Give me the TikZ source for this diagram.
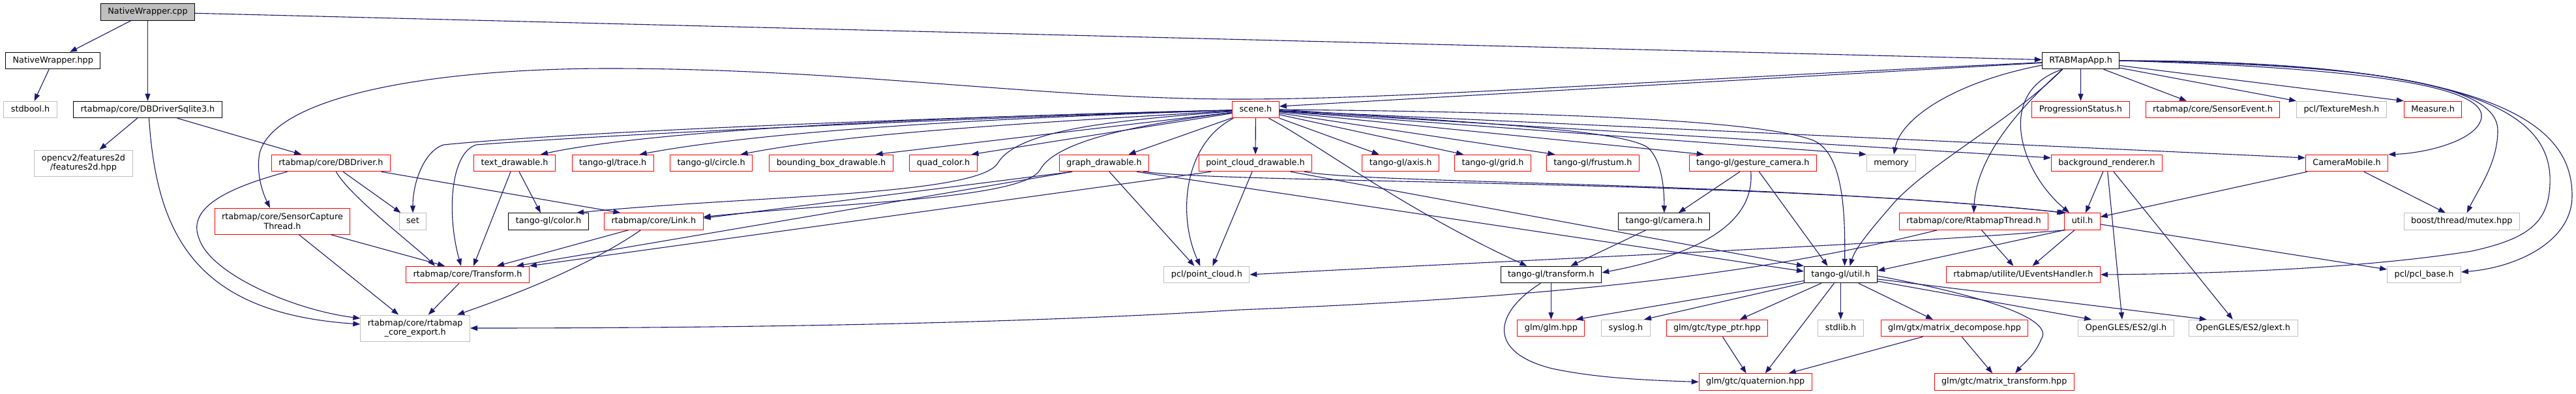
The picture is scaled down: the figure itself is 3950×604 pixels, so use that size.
\documentclass[tikz,border=0pt]{standalone}
\usepackage{fontspec}
\setmainfont{DejaVu Sans}
\usetikzlibrary{arrows.meta}
\definecolor{doxyblue}{RGB}{25,25,112}
\definecolor{doxyred}{RGB}{255,0,0}
\definecolor{doxygrey}{RGB}{191,191,191}
\begin{document}
\begin{tikzpicture}[x=1pt,y=-1pt,
  file/.style={draw,line width=1pt,font=\fontsize{12.8}{14.7}\selectfont,inner xsep=11pt,inner ysep=0pt,text height=9.8pt,text depth=3pt,minimum height=25.5pt},
  two/.style={align=center,text height={},text depth={},minimum height=40pt},
  redfile/.style={file,draw=doxyred},
  greyfile/.style={file,draw=doxygrey},
  blackfile/.style={file,draw=black},
  rootfile/.style={file,draw=black,fill=doxygrey},
  inc/.style={draw=doxyblue,line width=1.1pt,-{Triangle[length=11pt,width=8pt]}}]
  \fill[white](0,0)rectangle(3950,604);
  \useasboundingbox(0,0)rectangle(3950,604);
  \node[rootfile] (ncpp) at (226.5,18.5) {NativeWrapper.cpp};
  \node[blackfile] (nhpp) at (81.3,93) {NativeWrapper.hpp};
  \node[greyfile] (stdbool) at (46.5,168) {stdbool.h};
  \node[blackfile] (sqlite) at (226.5,168) {rtabmap/core/DBDriverSqlite3.h};
  \node[greyfile,two] (features) at (128,250) {opencv2/features2d\\/features2d.hpp};
  \node[redfile] (dbdriver) at (507.5,250) {rtabmap/core/DBDriver.h};
  \node[redfile,two] (capture) at (433,339.3) {rtabmap/core/SensorCapture\\Thread.h};
  \node[greyfile] (setstl) at (633,339.5) {set};
  \node[greyfile,two] (export) at (636.7,503) {rtabmap/core/rtabmap\\\_core\_export.h};
  \node[redfile] (transf) at (717,421) {rtabmap/core/Transform.h};
  \node[blackfile] (color) at (841,339.5) {tango-gl/color.h};
  \node[redfile] (link) at (1002.4,339.5) {rtabmap/core/Link.h};
  \node[redfile] (textdraw) at (789,250) {text\_drawable.h};
  \node[redfile] (trace) at (939.7,250) {tango-gl/trace.h};
  \node[redfile] (circle) at (1090.6,250) {tango-gl/circle.h};
  \node[redfile] (bbox) at (1274.5,250) {bounding\_box\_drawable.h};
  \node[redfile] (quad) at (1446.5,250) {quad\_color.h};
  \node[redfile] (graphdraw) at (1693,250) {graph\_drawable.h};
  \node[redfile] (clouddraw) at (1925,250) {point\_cloud\_drawable.h};
  \node[redfile] (scene) at (1925.4,168) {scene.h};
  \node[greyfile] (pclcloud) at (1850.4,421) {pcl/point\_cloud.h};
  \node[redfile] (axis) at (2147.7,250) {tango-gl/axis.h};
  \node[redfile] (grid) at (2289,250) {tango-gl/grid.h};
  \node[redfile] (frustum) at (2442.4,250) {tango-gl/frustum.h};
  \node[blackfile] (tgtransform) at (2378.4,421) {tango-gl/transform.h};
  \node[redfile] (glm) at (2378.4,503) {glm/glm.hpp};
  \node[greyfile] (syslog) at (2493,503) {syslog.h};
  \node[blackfile] (tgcamera) at (2551.8,339.5) {tango-gl/camera.h};
  \node[redfile] (typeptr) at (2632.8,503) {glm/gtc/type\_ptr.hpp};
  \node[redfile] (gesture) at (2687.7,250) {tango-gl/gesture\_camera.h};
  \node[greyfile] (memory) at (2900,250) {memory};
  \node[blackfile] (app) at (3190.6,93) {RTABMapApp.h};
  \node[redfile] (progress) at (3190.5,168) {ProgressionStatus.h};
  \node[redfile] (bgrend) at (3230.4,250) {background\_renderer.h};
  \node[redfile] (rtthread) at (3026.5,339.5) {rtabmap/core/RtabmapThread.h};
  \node[redfile] (util) at (3193,339.5) {util.h};
  \node[blackfile] (tgutil) at (2822.5,421) {tango-gl/util.h};
  \node[redfile] (uevents) at (3102.4,421) {rtabmap/utilite/UEventsHandler.h};
  \node[greyfile] (stdlib) at (2822.5,503) {stdlib.h};
  \node[redfile] (decompose) at (2997,503) {glm/gtx/matrix\_decompose.hpp};
  \node[greyfile] (glh) at (3260,503) {OpenGLES/ES2/gl.h};
  \node[redfile] (quat) at (2691.7,585.5) {glm/gtc/quaternion.hpp};
  \node[redfile] (mattrans) at (3073.2,585.5) {glm/gtc/matrix\_transform.hpp};
  \node[redfile] (sensorevent) at (3393,168) {rtabmap/core/SensorEvent.h};
  \node[greyfile] (texmesh) at (3590.4,168) {pcl/TextureMesh.h};
  \node[redfile] (measure) at (3730.6,168) {Measure.h};
  \node[redfile] (cammobile) at (3598.5,250) {CameraMobile.h};
  \node[greyfile] (mutex) at (3774.8,339.5) {boost/thread/mutex.hpp};
  \node[greyfile] (pclbase) at (3717,421) {pcl/pcl\_base.h};
  \node[greyfile] (glext) at (3439.7,503) {OpenGLES/ES2/glext.h};
  \draw[inc] (ncpp) -- (nhpp);
  \draw[inc] (ncpp) -- (sqlite);
  \draw[inc] (ncpp) -- (app);
  \draw[inc] (nhpp) -- (stdbool);
  \draw[inc] (sqlite) -- (features);
  \draw[inc] (sqlite) -- (dbdriver);
  \draw[inc] ([xshift=2pt]sqlite.south) .. controls (240,360) and (300,480) .. ([yshift=6pt]export.west);
  \draw[inc] ([xshift=-67pt]dbdriver.south) .. controls (360,285) and (285,315) .. (305,365) .. controls (322,420) and (450,475) .. ([yshift=15pt]export.west);
  \draw[inc] (dbdriver) -- (setstl);
  \draw[inc] ([xshift=8pt]dbdriver.south) .. controls (535,300) and (640,380) .. ([xshift=-50pt]transf.north);
  \draw[inc] (dbdriver) -- ([xshift=-51pt]link.north);
  \draw[inc] (capture) -- (export);
  \draw[inc] (capture) -- ([xshift=-35pt]transf.north);
  \draw[inc] (app) .. controls (2500,125) and (2150,152) .. (1900,152) .. controls (1600,152) and (1300,105) .. (935,105) .. controls (650,105) and (420,150) .. (398,235) .. controls (392,270) and (405,300) .. ([xshift=-19pt]capture.north);
  \draw[inc] (app) -- ([yshift=5pt]scene.east);
  \draw[inc] ([yshift=-7pt]app.west) .. controls (3000,125) and (2915,180) .. ([xshift=4pt]memory.north);
  \draw[inc] ([xshift=-28pt]app.south) .. controls (3090,180) and (2960,250) .. (2905,310) .. controls (2870,350) and (2845,380) .. ([xshift=14pt]tgutil.north);
  \draw[inc] ([xshift=-28pt]app.south) .. controls (3080,180) and (3030,250) .. (rtthread.north);
  \draw[inc] ([xshift=-28pt]app.south) .. controls (3060,140) and (3095,260) .. ([xshift=-20pt]util.north);
  \draw[inc] (app) -- (progress);
  \draw[inc] (app) -- ([xshift=-40pt]sensorevent.north);
  \draw[inc] (app) -- (texmesh.north west);
  \draw[inc] (app) -- (measure.north west);
  \draw[inc] (app.east) .. controls (3650,105) and (3810,135) .. (3805,180) .. controls (3800,215) and (3720,235) .. (cammobile.north east);
  \draw[inc] (app.east) .. controls (3700,100) and (3830,140) .. (3830,200) .. controls (3830,250) and (3800,290) .. ([xshift=8pt]mutex.north);
  \draw[inc] (app.east) .. controls (3780,95) and (3905,170) .. (3910,270) .. controls (3912,340) and (3880,365) .. (3790,385) .. controls (3600,415) and (3350,420) .. (uevents.east);
  \draw[inc] (app.east) .. controls (3850,93) and (3944,200) .. (3944,300) .. controls (3944,370) and (3860,410) .. ([yshift=4pt]pclbase.east);
  \draw[inc] (scene) .. controls (1500,178) and (900,200) .. (680,222) .. controls (650,232) and (633,280) .. (setstl.north);
  \draw[inc] (scene) .. controls (1500,180) and (950,205) .. (730,222) .. controls (690,235) and (685,330) .. ([xshift=-10pt]transf.north);
  \draw[inc] (scene) .. controls (1400,180) and (1000,200) .. ([xshift=40pt]textdraw.north);
  \draw[inc] (scene) .. controls (1450,183) and (1150,205) .. ([xshift=41pt]trace.north);
  \draw[inc] (scene) .. controls (1550,190) and (1300,205) .. ([xshift=45pt]circle.north);
  \draw[inc] (scene) -- ([xshift=68pt]bbox.north);
  \draw[inc] (scene) -- ([xshift=43pt]quad.north);
  \draw[inc] (scene) .. controls (1700,185) and (1560,200) .. (1530,250) .. controls (1500,300) and (1150,300) .. ([xshift=43pt]color.north);
  \draw[inc] (scene) .. controls (1750,190) and (1620,215) .. (1595,260) .. controls (1570,305) and (1300,310) .. ([yshift=7pt]link.east);
  \draw[inc] (scene) -- (graphdraw);
  \draw[inc] (scene) -- (clouddraw);
  \draw[inc] ([xshift=-34pt]scene.south) .. controls (1815,220) and (1805,330) .. ([xshift=-10pt]pclcloud.north);
  \draw[inc] (scene) -- ([xshift=-33pt]axis.north);
  \draw[inc] (scene) -- ([xshift=-45pt]grid.north);
  \draw[inc] (scene) -- ([xshift=-58pt]frustum.north);
  \draw[inc] ([xshift=20pt]scene.south) .. controls (2020,220) and (2150,320) .. ([xshift=-37pt]tgtransform.north);
  \draw[inc] (scene.east) .. controls (2300,190) and (2480,200) .. (2525,225) .. controls (2545,240) and (2552,280) .. (tgcamera.north);
  \draw[inc] (scene) -- ([xshift=-75pt]gesture.north);
  \draw[inc] (scene) -- (memory.north west);
  \draw[inc] (scene) -- ([yshift=8pt]bgrend.west);
  \draw[inc] (scene) -- ([yshift=8pt]cammobile.west);
  \draw[inc] (scene.east) .. controls (2400,172) and (2700,185) .. (2780,215) .. controls (2820,232) and (2830,300) .. ([xshift=6pt]tgutil.north);
  \draw[inc] ([xshift=-6pt]textdraw.south) -- ([xshift=9pt]transf.north);
  \draw[inc] ([xshift=7pt]textdraw.south) -- ([xshift=-12pt]color.north);
  \draw[inc] ([xshift=-39pt]link.south) -- ([xshift=45pt]transf.north);
  \draw[inc] ([xshift=-20pt]link.south) .. controls (900,410) and (780,455) .. ([xshift=-20pt]export.north east);
  \draw[inc] (transf) -- (export);
  \draw[inc] ([xshift=-49pt]graphdraw.south) -- ([yshift=5pt]link.east);
  \draw[inc] ([xshift=-49pt]graphdraw.south) -- ([xshift=75pt]transf.north);
  \draw[inc] ([xshift=8pt]graphdraw.south) -- ([xshift=-19pt]pclcloud.north);
  \draw[inc] ([xshift=-68pt]clouddraw.south) -- (transf.north east);
  \draw[inc] ([xshift=-5pt]clouddraw.south) -- ([xshift=9pt]pclcloud.north);
  \draw[inc] ([xshift=50pt]graphdraw.south) -- ([yshift=5pt]tgutil.west);
  \draw[inc] ([xshift=54pt]clouddraw.south) -- (tgutil.north west);
  \draw[inc] ([xshift=60pt]graphdraw.south) .. controls (1900,282) and (2700,275) .. (util.north west);
  \draw[inc] ([xshift=75pt]clouddraw.south) .. controls (2100,282) and (2700,278) .. ([xshift=3pt]util.north west);
  \draw[inc] ([xshift=-56pt]rtthread.south) .. controls (2700,420) and (2400,455) .. (1900,475) .. controls (1500,500) and (1000,503) .. (export.east);
  \draw[inc] ([xshift=12pt]rtthread.south) -- ([xshift=-15pt]uevents.north);
  \draw[inc] ([xshift=-12pt]util.south) -- ([xshift=14pt]uevents.north);
  \draw[inc] (util.south west) -- ([yshift=6pt]tgutil.east);
  \draw[inc] ([xshift=-26pt]util.south) .. controls (2900,375) and (2300,400) .. (pclcloud.east);
  \draw[inc] (util) -- ([yshift=8pt]pclbase.west);
  \draw[inc] (cammobile) -- ([yshift=7pt]util.east);
  \draw[inc] (cammobile) -- ([xshift=-25pt]mutex.north);
  \draw[inc] (bgrend) -- ([xshift=5pt]util.north);
  \draw[inc] (bgrend) -- ([xshift=-6pt]glh.north);
  \draw[inc] (bgrend) -- ([xshift=-16pt]glext.north);
  \draw[inc] (tgutil) -- ([xshift=38pt]glm.north);
  \draw[inc] (tgutil) -- ([xshift=28pt]syslog.north);
  \draw[inc] (tgutil) -- ([xshift=35pt]typeptr.north);
  \draw[inc] (tgutil) -- ([xshift=15pt]quat.north);
  \draw[inc] (tgutil) -- (stdlib);
  \draw[inc] (tgutil) -- ([xshift=-33pt]decompose.north);
  \draw[inc] ([yshift=-2pt]tgutil.east) .. controls (3050,455) and (3150,490) .. (3130,520) .. controls (3120,545) and (3100,560) .. ([xshift=17pt]mattrans.north);
  \draw[inc] (tgutil) -- ([xshift=-53pt]glh.north);
  \draw[inc] (tgutil) -- ([xshift=-56pt]glext.north);
  \draw[inc] (tgtransform) -- (glm);
  \draw[inc] ([xshift=-16pt]tgtransform.south) .. controls (2290,480) and (2280,540) .. (2380,565) .. controls (2450,580) and (2530,583) .. (quat.west);
  \draw[inc] (tgcamera) -- ([xshift=30pt]tgtransform.north);
  \draw[inc] (gesture) -- ([xshift=22pt]tgcamera.north);
  \draw[inc] ([xshift=-3pt]gesture.south) .. controls (2690,330) and (2630,385) .. ([yshift=3pt]tgtransform.east);
  \draw[inc] (gesture) -- ([xshift=-20pt]tgutil.north);
  \draw[inc] (typeptr) -- ([xshift=-14pt]quat.north);
  \draw[inc] (decompose) -- ([xshift=51pt]quat.north);
  \draw[inc] (decompose) -- ([xshift=-18pt]mattrans.north);
\end{tikzpicture}
\end{document}
